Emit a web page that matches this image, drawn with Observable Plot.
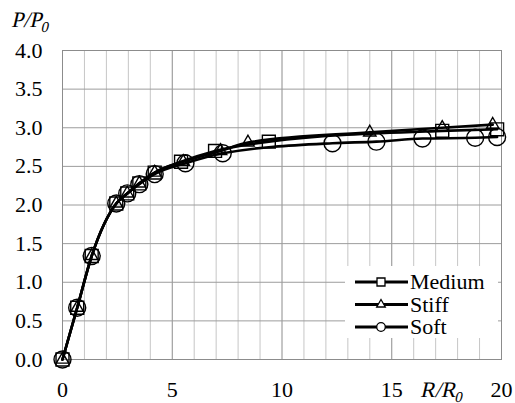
<!DOCTYPE html>
<html>
<head>
<meta charset="utf-8">
<script src="https://cdn.jsdelivr.net/npm/d3@7"></script>
<script src="https://cdn.jsdelivr.net/npm/@observablehq/plot@0.6"></script>
<style>
  html, body { margin: 0; padding: 0; background: white; }
</style>
</head>
<body>
<div id="chart"></div>
<script>
// ---- data ----
const seriesNames = ["Medium", "Stiff", "Soft"];
const seriesSymbols = ["square", "triangle", "circle"];

const mediumX = [0, 0.67, 1.33, 2.45, 2.95, 3.5, 4.2, 5.4, 6.95, 9.4, 17.3, 19.8];
const mediumY = [0, 0.67, 1.34, 2.02, 2.15, 2.28, 2.42, 2.56, 2.70, 2.82, 2.96, 2.98];

const stiffX = [0, 0.67, 1.33, 2.45, 2.95, 3.5, 4.2, 5.5, 7.2, 8.45, 14.0, 17.3, 19.6];
const stiffY = [0, 0.67, 1.34, 2.02, 2.15, 2.28, 2.42, 2.56, 2.70, 2.81, 2.94, 3.00, 3.04];

const softX = [0, 0.67, 1.33, 2.45, 2.95, 3.5, 4.2, 5.6, 7.3, 12.3, 14.3, 16.4, 18.8, 19.8];
const softY = [0, 0.67, 1.34, 2.02, 2.15, 2.27, 2.40, 2.54, 2.67, 2.80, 2.82, 2.86, 2.87, 2.88];

const xTicks = [0, 5, 10, 15, 20];
const xMinorGrid = [1, 2, 3, 4, 6, 7, 8, 9, 11, 12, 13, 14, 16, 17, 18, 19];
const xMajorGrid = [5, 10, 15];
const yTicks = [0, 0.5, 1.0, 1.5, 2.0, 2.5, 3.0, 3.5, 4.0];

// ---- build table ----
const seriesX = [mediumX, stiffX, softX];
const seriesY = [mediumY, stiffY, softY];
const rows = [];
seriesNames.forEach((name, i) => {
  seriesX[i].forEach((x, j) => rows.push({series: name, x, y: seriesY[i][j]}));
});
const of = name => rows.filter(d => d.series === name);

const symbolR = {square: 7.3, triangle: 4.6, circle: 8.5};

const marks = [
  Plot.gridX(xMinorGrid, {stroke: "#c6c6c6", strokeOpacity: 1, strokeWidth: 1}),
  Plot.gridX(xMajorGrid, {stroke: "#8c8c8c", strokeOpacity: 1, strokeWidth: 1}),
  Plot.gridY(yTicks, {stroke: "#9c9c9c", strokeOpacity: 1, strokeWidth: 1}),
  Plot.frame({stroke: "#8c8c8c", strokeWidth: 1}),
  Plot.axisY(yTicks, {tickSize: 0, tickPadding: 20, tickFormat: d3.format(".1f"), label: null, fontSize: 22}),
  Plot.axisX(xTicks, {tickSize: 0, tickPadding: 22, tickFormat: d => String(d), label: null, fontSize: 22})
];
seriesNames.forEach((name, i) => {
  marks.push(Plot.line(of(name), {x: "x", y: "y", stroke: "black", strokeWidth: 2.6, curve: "monotone-x"}));
});
seriesNames.forEach((name, i) => {
  marks.push(Plot.dot(of(name), {x: "x", y: "y", symbol: seriesSymbols[i], r: symbolR[seriesSymbols[i]],
    stroke: "black", strokeWidth: 1.4, fill: "none"}));
});

const chart = Plot.plot({
  width: 515,
  height: 403,
  marginLeft: 62,
  marginRight: 14,
  marginTop: 50,
  marginBottom: 44,
  style: {fontFamily: "Liberation Serif", fontSize: "22px"},
  x: {domain: [0, 20]},
  y: {domain: [0, 4]},
  marks
});
document.getElementById("chart").appendChild(chart);

// ---- axis titles (upright face, slanted by a skew) ----
const svg = d3.select(chart);
function subLabel(x, y, main, sub) {
  const g = svg.append("g").attr("transform", `translate(${x},${y}) skewX(-13)`);
  const t = g.append("text").attr("x", 0).attr("y", 0).attr("text-anchor", "start")
    .attr("font-size", 22).attr("fill", "black");
  t.append("tspan").text(main);
  t.append("tspan").attr("font-size", 15).attr("dy", 5).text(sub);
}
subLabel(11, 27, "P/P", "0");
subLabel(420, 397, "R/R", "0");

// ---- legend ----
const lg = svg.append("g");
lg.append("rect").attr("x", 345).attr("y", 266).attr("width", 153).attr("height", 72).attr("fill", "white");
const rowY = [282, 304.5, 327];
const legR = {square: 4.5, triangle: 3.2, circle: 4.3};
seriesNames.forEach((name, i) => {
  const y = rowY[i];
  lg.append("line").attr("x1", 355).attr("x2", 408).attr("y1", y).attr("y2", y)
    .attr("stroke", "black").attr("stroke-width", 3);
  const sym = {square: d3.symbolSquare, triangle: d3.symbolTriangle, circle: d3.symbolCircle}[seriesSymbols[i]];
  const r = legR[seriesSymbols[i]];
  lg.append("path").attr("d", d3.symbol(sym, Math.PI * r * r)())
    .attr("transform", `translate(381,${y})`)
    .attr("fill", "white").attr("stroke", "black").attr("stroke-width", 1.3);
  lg.append("text").attr("x", 410).attr("y", y).attr("dy", "0.33em").attr("text-anchor", "start")
    .attr("font-size", 22).attr("fill", "black").text(name);
});
</script>
</body>
</html>
